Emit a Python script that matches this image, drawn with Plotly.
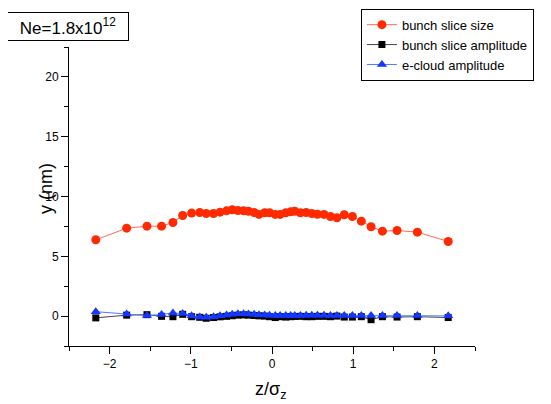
import plotly.graph_objects as go

z = [-2.17, -1.79, -1.54, -1.36, -1.22, -1.10, -0.99, -0.89, -0.81, -0.72,
     -0.64, -0.56, -0.49, -0.42, -0.35, -0.29, -0.22, -0.16, -0.09, -0.03,
     0.04, 0.10, 0.17, 0.23, 0.28, 0.35, 0.42, 0.49, 0.56, 0.64,
     0.72, 0.80, 0.89, 0.99, 1.10, 1.22, 1.36, 1.54, 1.79, 2.17]

slice_size = [6.38, 7.35, 7.52, 7.52, 7.83, 8.41, 8.61, 8.66, 8.58, 8.58,
              8.69, 8.80, 8.89, 8.83, 8.80, 8.77, 8.66, 8.50, 8.64, 8.64,
              8.50, 8.50, 8.64, 8.72, 8.77, 8.64, 8.66, 8.58, 8.52, 8.50,
              8.33, 8.22, 8.47, 8.33, 7.94, 7.47, 7.10, 7.16, 7.02, 6.24]

slice_amp = [-0.15, 0.08, 0.12, -0.02, -0.05, 0.15, -0.05, -0.10, -0.18, -0.12,
             -0.06, -0.02, 0.03, 0.08, 0.10, 0.08, 0.05, 0.02, 0.00, -0.05,
             -0.12, -0.05, -0.08, -0.05, -0.03, -0.02, -0.05, -0.05, -0.02, -0.02,
             -0.05, 0.00, -0.08, -0.08, -0.05, -0.30, -0.05, -0.08, -0.05, -0.12]

ecloud_amp = [0.37, 0.18, 0.04, 0.14, 0.26, 0.22, 0.03, -0.08, -0.10, -0.05,
              0.03, 0.10, 0.16, 0.20, 0.20, 0.18, 0.15, 0.12, 0.10, 0.08,
              0.06, 0.05, 0.05, 0.05, 0.06, 0.06, 0.07, 0.08, 0.08, 0.07,
              0.06, 0.06, 0.04, 0.05, 0.04, 0.04, 0.06, 0.05, 0.05, 0.02]

x_ticks = [-2, -1, 0, 1, 2]
y_ticks = [0, 5, 10, 15, 20]

RED = "#ff2a00"
BLUE = "#1437ff"

fig = go.Figure()
fig.add_trace(go.Scatter(x=z, y=slice_size, mode="lines+markers", name="bunch slice size",
                         line=dict(color="#ff6a55", width=1),
                         marker=dict(symbol="circle", size=9, color=RED)))
fig.add_trace(go.Scatter(x=z, y=slice_amp, mode="lines+markers", name="bunch slice amplitude",
                         line=dict(color="#444444", width=1),
                         marker=dict(symbol="square", size=7, color="black")))
fig.add_trace(go.Scatter(x=z, y=ecloud_amp, mode="lines+markers", name="e-cloud amplitude",
                         line=dict(color="#5577ff", width=1),
                         marker=dict(symbol="triangle-up", size=9, color=BLUE)))

axis_common = dict(showgrid=False, zeroline=False, showline=True, linecolor="black",
                   linewidth=1, ticks="outside", ticklen=7, tickcolor="black",
                   tickfont=dict(family="Liberation Sans, Arial", size=12, color="black"))

fig.update_xaxes(range=[-2.5, 2.5], tickvals=x_ticks,
                 minor=dict(dtick=0.5, tick0=0, ticks="outside", ticklen=4, tickcolor="black"),
                 **axis_common)
fig.update_yaxes(range=[-2.5, 22.5], tickvals=y_ticks,
                 minor=dict(dtick=2.5, tick0=0, ticks="outside", ticklen=4, tickcolor="black"),
                 **axis_common)

# the page body has an 8px margin, so the figure is sized/placed to compensate
fig.update_layout(
    width=543, height=396,
    margin=dict(l=61, r=76, t=39, b=58, autoexpand=False),
    plot_bgcolor="white", paper_bgcolor="white",
    font=dict(family="Liberation Sans, Arial", color="black"),
    showlegend=True,
    legend=dict(x=0.719, y=1.128, xanchor="left", yanchor="top",
                bgcolor="white", bordercolor="black", borderwidth=1,
                font=dict(size=13), tracegroupgap=0),
    annotations=[
        dict(text="Ne=1.8x10<sup>12</sup>", x=-0.0025, y=1.067, xref="paper", yref="paper",
             xanchor="center", yanchor="middle", showarrow=False,
             font=dict(size=17), bordercolor="black", borderwidth=1, bgcolor="white",
             width=118, height=25),
        dict(text="z/σ<sub>z</sub>", x=0.496, y=-0.105, xref="paper", yref="paper",
             xanchor="center", yanchor="top", showarrow=False, font=dict(size=18)),
        dict(text="y (nm)", x=-0.057, y=0.528, xref="paper", yref="paper",
             xanchor="center", yanchor="middle", textangle=-90, showarrow=False,
             font=dict(size=18)),
    ],
)

fig.write_html("out.html")
